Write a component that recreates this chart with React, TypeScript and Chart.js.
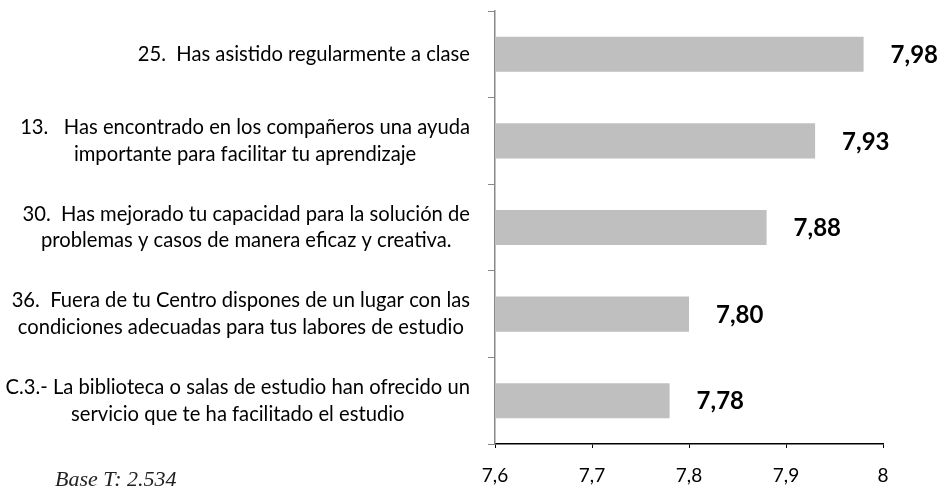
import React, { useEffect, useRef } from "react";
import { Chart, registerables } from "chart.js";

Chart.register(...registerables);

const categories: string[][] = [
  ["25.  Has asistido regularmente a clase"],
  ["13.   Has encontrado en los compañeros una ayuda", "importante para facilitar tu aprendizaje"],
  ["30.  Has mejorado tu capacidad para la solución de", "problemas y casos de manera eficaz y creativa."],
  ["36.  Fuera de tu Centro dispones de un lugar con las", "condiciones adecuadas para tus labores de estudio"],
  ["C.3.- La biblioteca o salas de estudio han ofrecido un", "servicio que te ha facilitado el estudio"],
];
const values: number[] = [7.98, 7.93, 7.88, 7.8, 7.78];
const xMin = 7.6;
const xMax = 8;
const xStep = 0.1;
const footnote = "Base T: 2.534";

const fmtTick = (v: number) => String(Math.round(v * 10) / 10).replace(".", ",");
const fmtVal = (v: number) => v.toFixed(2).replace(".", ",");

const textPlugin = {
  id: "texts",
  afterDraw(chart: any) {
    const ctx = chart.ctx as CanvasRenderingContext2D;
    const yScale = chart.scales.y;
    const right = chart.chartArea.left - 25;
    ctx.save();
    ctx.fillStyle = "#000";
    ctx.textBaseline = "middle";
    ctx.textAlign = "center";
    ctx.font = "20.2px Lato";
    const lh = 26.7;
    categories.forEach((lines, i) => {
      const cy = yScale.getPixelForValue(i);
      const w = Math.max(...lines.map((l) => ctx.measureText(l).width));
      const cx = right - w / 2;
      lines.forEach((l, j) => ctx.fillText(l, cx, cy + (j - (lines.length - 1) / 2) * lh));
    });
    const meta = chart.getDatasetMeta(0);
    ctx.font = "bold 24px Lato";
    ctx.textAlign = "left";
    meta.data.forEach((bar: any, i: number) => ctx.fillText(fmtVal(values[i]), bar.x + 27, bar.y + 1));
    ctx.font = 'italic 22px "Liberation Serif"';
    ctx.fillStyle = "#222";
    ctx.fillText(footnote, 55, 480);
    ctx.restore();
  },
};

export default function App() {
  const ref = useRef<HTMLCanvasElement | null>(null);
  useEffect(() => {
    document.body.style.margin = "0";
    const chart = new Chart(ref.current as HTMLCanvasElement, {
      type: "bar",
      data: {
        labels: categories.map((c) => c.join(" ")),
        datasets: [
          {
            data: values,
            backgroundColor: "#BFBFBF",
            barPercentage: 0.405,
            categoryPercentage: 1,
            base: xMin,
          } as any,
        ],
      },
      options: {
        indexAxis: "y",
        responsive: false,
        animation: false,
        devicePixelRatio: 1,
        layout: { padding: { left: 488, right: 55, top: 11, bottom: 0 } },
        plugins: { legend: { display: false }, tooltip: { enabled: false } },
        scales: {
          x: {
            type: "linear",
            min: xMin,
            max: xMax,
            position: "bottom",
            ticks: {
              stepSize: xStep,
              padding: 16,
              color: "#000",
              font: { family: "Lato", size: 19 },
              callback: (v: any) => fmtTick(Number(v)),
            },
            grid: { drawOnChartArea: false, drawTicks: true, tickLength: 4, color: "#000", lineWidth: 1 },
            border: { display: true, color: "#000", width: 1.5 },
            afterFit: (s: any) => {
              s.height = 52;
            },
          },
          y: {
            type: "category",
            offset: true,
            ticks: { display: false },
            grid: { offset: true, drawOnChartArea: false, drawTicks: true, tickLength: 7, color: "#888" },
            border: { display: true, color: "#888", width: 1.5 },
            afterFit: (s: any) => {
              s.width = 7;
            },
          },
        },
      } as any,
      plugins: [textPlugin],
    });
    return () => chart.destroy();
  }, []);
  return (
    <div style={{ width: 938, height: 496 }}>
      <canvas ref={ref} width={938} height={496} />
    </div>
  );
}
